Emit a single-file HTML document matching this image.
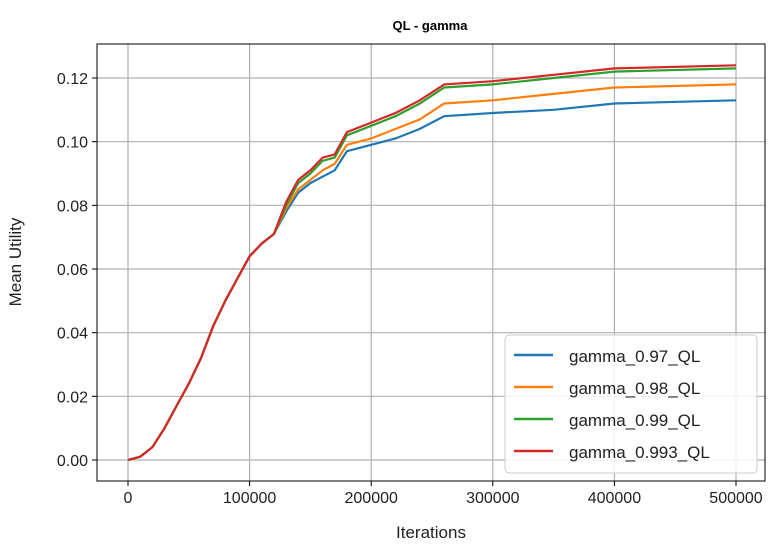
<!DOCTYPE html>
<html><head><meta charset="utf-8"><style>
body{margin:0;background:#fff;font-family:"Liberation Sans","DejaVu Sans",sans-serif}
</style></head><body>
<svg id="chart" width="776" height="546" xmlns="http://www.w3.org/2000/svg"></svg>
<script>
const xsK=[0,10,20,30,40,50,60,70,80,90,100,110,120,130,140,150,160,170,180,200,220,240,260,300,350,400,500];
const common=[0,0.001,0.004,0.010,0.017,0.024,0.032,0.042,0.050,0.057,0.064,0.068,0.071];
const blue=common.concat([0.078,0.084,0.087,0.089,0.091,0.097,0.099,0.101,0.104,0.108,0.109,0.110,0.112,0.113]);
const orange=common.concat([0.079,0.085,0.088,0.091,0.093,0.099,0.101,0.104,0.107,0.112,0.113,0.115,0.117,0.118]);
const green=common.concat([0.080,0.087,0.090,0.094,0.095,0.102,0.105,0.108,0.112,0.117,0.118,0.120,0.122,0.123]);
const red=common.concat([0.081,0.088,0.091,0.095,0.096,0.103,0.106,0.109,0.113,0.118,0.119,0.121,0.123,0.124]);
const seriesNames=["gamma_0.97_QL","gamma_0.98_QL","gamma_0.99_QL","gamma_0.993_QL"];
const seriesColors=["#1f77b4","#ff7f0e","#2ca02c","#d62728"];
const xTicks=[0,100000,200000,300000,400000,500000];
const yTicks=[0,0.02,0.04,0.06,0.08,0.10,0.12];
const all=[blue,orange,green,red];
const svg=document.getElementById('chart');
const NS="http://www.w3.org/2000/svg";
const L=97,R=765,T=44,B=481;
const xs=v=>128+v*(608/500000);
const ys=v=>460-v*(382/0.12);
function mk(t,a,p){const e=document.createElementNS(NS,t);for(const k in a)e.setAttribute(k,a[k]);(p||svg).appendChild(e);return e;}
function txt(s,a){const e=mk('text',a);e.textContent=s;return e;}
xTicks.forEach(v=>{
 const g=mk('line',{x1:xs(v),x2:xs(v),y1:T,y2:B,stroke:'#b0b0b0','stroke-width':1.2});
 
 
 mk('line',{x1:xs(v),x2:xs(v),y1:B,y2:B+5,stroke:'#000'});
 const t=txt(String(v),{x:xs(v),y:B+22,'text-anchor':'middle','font-size':16,fill:'#222'});
 
 
});
yTicks.forEach(v=>{
 const g=mk('line',{x1:L,x2:R,y1:ys(v),y2:ys(v),stroke:'#b0b0b0','stroke-width':1.2});
 
 
 mk('line',{x1:L-5,x2:L,y1:ys(v),y2:ys(v),stroke:'#000'});
 const t=txt(v.toFixed(2),{x:L-9,y:ys(v)+6,'text-anchor':'end','font-size':16,fill:'#222'});
 
 
});
all.forEach((s,i)=>{
 const pts=s.map((v,j)=>xs(xsK[j]*1000).toFixed(1)+','+ys(v).toFixed(1)).join(' ');
 const p=mk('polyline',{points:pts,fill:'none',stroke:seriesColors[i],'stroke-width':2.2});
 
 
});
const frame=mk('rect',{x:L,y:T,width:R-L,height:B-T,fill:'none',stroke:'#000','stroke-width':1});


const title=txt('QL - gamma',{x:430,y:30,'text-anchor':'middle','font-size':13,'font-weight':'bold'});


const xl=txt('Iterations',{x:431,y:538,'text-anchor':'middle','font-size':17,fill:'#222'});


const yl=txt('Mean Utility',{x:21,y:262,'text-anchor':'middle','font-size':17,fill:'#222',transform:'rotate(-90 21 262)'});


const lg=mk('rect',{x:505,y:335,width:252,height:138,rx:4,fill:'#fff','fill-opacity':0.85,stroke:'#ccc'});


seriesNames.forEach((n,i)=>{
 const y=355+i*32;
 const ln=mk('line',{x1:514,x2:553,y1:y,y2:y,stroke:seriesColors[i],'stroke-width':2.5});
 
 
 const t=txt(n,{x:569,y:y+7,'font-size':17,fill:'#222'});
 
 
});
</script>
</body></html>
